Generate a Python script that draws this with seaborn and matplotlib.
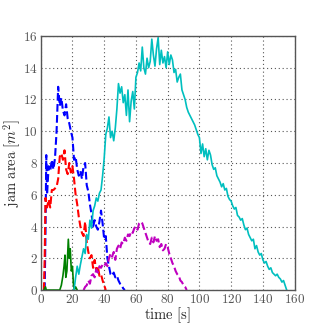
import matplotlib
matplotlib.use("Agg")
import matplotlib.pyplot as plt
import matplotlib.ticker as mticker
import seaborn as sns

# jam area over time for five runs
blue_t = [2.5, 3, 3.5, 4, 5, 6, 7, 8, 9, 10, 11, 12, 13, 14, 15, 16, 17, 18, 19, 20,
          21, 22, 23, 24, 25, 26, 27, 28, 29, 30, 31, 32, 33, 34, 35, 36, 37, 38, 39, 40,
          41, 42, 43, 44, 45, 46, 47, 48, 49, 50, 51, 52, 53]
blue_v = [0.0, 3.5, 8.5, 6.0, 7.8, 7.5, 8.2, 7.6, 8.3, 10.0, 12.8, 11.6, 12.1, 11.3, 11.0, 11.7, 10.8, 10.5, 10.0, 9.6,
          8.2, 8.4, 7.6, 7.2, 7.5, 7.0, 7.8, 8.0, 6.6, 6.2, 5.4, 4.8, 4.0, 4.4, 4.0, 3.8, 4.3, 5.0, 4.2, 3.2,
          3.4, 2.0, 1.5, 1.0, 0.9, 1.1, 0.8, 0.9, 0.6, 0.4, 0.3, 0.1, 0.0]

red_t = [2, 2.5, 3, 4, 5, 6, 7, 8, 9, 10, 11, 12, 13, 14, 15, 16, 17, 18, 19, 20,
         21, 22, 23, 24, 25, 26, 27, 28, 29, 30, 31, 32, 33, 34, 35, 36, 37, 38, 39, 40, 41]
red_v = [0.0, 2.0, 5.8, 5.2, 5.7, 5.2, 6.3, 6.3, 6.4, 6.5, 7.0, 8.4, 8.6, 8.2, 8.8, 7.6, 7.3, 8.0, 7.4, 7.8,
         7.0, 6.0, 5.4, 4.6, 4.0, 3.6, 3.4, 4.3, 3.0, 2.4, 2.0, 2.2, 1.4, 1.9, 1.2, 1.5, 0.9, 1.0, 0.6, 0.3, 0.0]

green_t = [2, 3, 3.5, 12, 13, 14, 14.7, 15.3, 15.8, 16.5, 17.4, 18, 18.6, 19.3, 20, 20.6, 21.2, 22, 23]
green_v = [0.0, 0.2, 0.0, 0.0, 0.3, 0.9, 1.5, 2.2, 0.8, 1.2, 3.2, 2.0, 2.6, 1.2, 1.5, 0.4, 0.0, 0.2, 0.0]

cyan_t = list(range(21, 156))
cyan_v = [0.0, 0.8, 1.5, 1.0, 1.6, 2.1, 2.6, 2.3, 3.5, 3.2,
          4.4, 3.9, 5.0, 5.3, 5.8, 5.6, 6.1, 6.3, 7.2, 8.3,
          9.8, 10.2, 10.9, 9.6, 10.0, 9.4, 10.2, 11.4, 13.0, 12.4,
          12.8, 11.8, 12.3, 11.0, 12.6, 10.6, 11.9, 12.5, 11.4, 13.4,
          13.7, 14.3, 13.8, 15.3, 14.0, 13.6, 14.6, 14.0, 14.4, 15.8,
          14.8, 14.1, 15.2, 15.9, 14.2, 15.1, 14.3, 14.7, 14.0, 15.0,
          14.2, 14.8, 14.5, 13.7, 13.9, 13.1, 13.4, 13.6, 12.6, 12.3,
          12.0, 11.5, 11.2, 11.0, 10.8, 10.6, 10.4, 10.1, 9.8, 9.6,
          8.6, 9.2, 8.4, 8.9, 8.2, 8.8, 8.5, 7.9, 7.6, 7.7,
          7.2, 7.0, 6.8, 6.5, 6.7, 6.3, 6.4, 5.9, 5.7, 5.6,
          5.3, 5.1, 5.2, 4.7, 4.6, 4.4, 4.5, 4.1, 3.8, 3.9,
          3.5, 3.3, 3.1, 3.2, 2.6, 2.8, 2.4, 2.2, 2.3, 1.9,
          1.7, 1.8, 1.5, 1.3, 1.4, 1.1, 1.0, 0.9, 1.0, 0.8,
          0.7, 0.5, 0.6, 0.3, 0.0]

magenta_t = list(range(27, 93))
magenta_v = [0.0, 0.2, 0.3, 0.6, 0.4, 0.9, 1.0, 0.8, 1.3, 1.1,
             1.5, 1.4, 1.6, 1.5, 1.7, 1.5, 2.0, 2.3, 2.1, 2.4,
             1.9, 2.6, 2.8, 2.6, 3.0, 2.9, 3.3, 3.1, 3.5, 3.4,
             3.7, 3.6, 3.9, 4.0, 3.8, 4.2, 4.3, 4.2, 3.9, 3.6,
             3.3, 3.0, 2.9, 3.3, 3.0, 3.4, 3.1, 3.2, 2.7, 2.9,
             2.5, 2.6, 2.9, 2.7, 2.3, 2.0, 1.7, 1.5, 1.2, 1.0,
             0.9, 0.6, 0.5, 0.3, 0.2, 0.0]

sns.set_style("white")
plt.rcParams["mathtext.fontset"] = "cm"
plt.rcParams["font.family"] = ["DejaVu Serif"]

fig = plt.figure(figsize=(3.27, 3.27), dpi=100)
ax = fig.add_axes([0.1245, 0.113, 0.7765, 0.777])

sns.lineplot(x=blue_t, y=blue_v, ax=ax, color=(0, 0, 1), lw=1.5, ls="--")
sns.lineplot(x=red_t, y=red_v, ax=ax, color=(1, 0, 0), lw=1.5, ls="--")
sns.lineplot(x=green_t, y=green_v, ax=ax, color=(0, 0.5, 0), lw=1.2)
sns.lineplot(x=cyan_t, y=cyan_v, ax=ax, color=(0, 0.75, 0.75), lw=1.2)
sns.lineplot(x=magenta_t, y=magenta_v, ax=ax, color=(0.75, 0, 0.75), lw=1.5, ls="--")

ax.set_xlim(0, 160)
ax.set_ylim(0, 16)
ax.xaxis.set_major_locator(mticker.MultipleLocator(20))
ax.yaxis.set_major_locator(mticker.MultipleLocator(2))
fmt = mticker.FuncFormatter(lambda v, p: r"$%d$" % v)
ax.xaxis.set_major_formatter(fmt)
ax.yaxis.set_major_formatter(fmt)
ax.tick_params(direction="in", length=3, labelsize=9.5, labelcolor="#555555", color="#555555", pad=2)
ax.grid(True, ls=(0, (1, 2.5)), color="#555555", lw=0.8)
for s in ax.spines.values():
    s.set_color("#555555")
    s.set_linewidth(1.0)

ax.set_xlabel(r"$\mathrm{time\ [s]}$", fontsize=10.5, labelpad=0)
ax.set_ylabel(r"$\mathrm{jam\ area\ }[m^2]$", fontsize=10.5, labelpad=0)

fig.savefig("out.png", dpi=100)
